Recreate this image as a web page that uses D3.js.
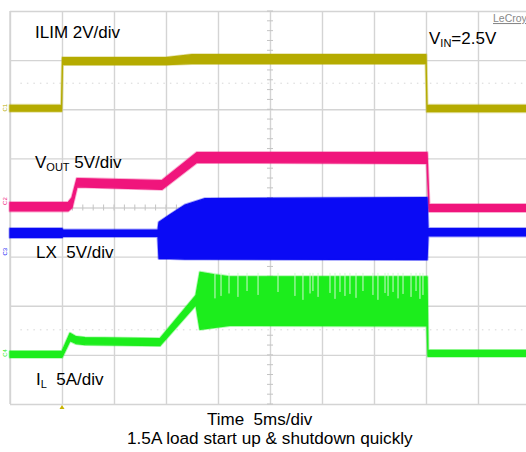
<!DOCTYPE html>
<html><head><meta charset="utf-8">
<script src="https://cdn.jsdelivr.net/npm/d3@7"></script>
<style>html,body{margin:0;padding:0;background:#fff;} svg{display:block;} text{font-family:"Liberation Sans",Arial,sans-serif;}</style>
</head><body>
<svg id="c" width="526" height="452"></svg>
<script>
// Time axis: 5 ms/div, 10 divisions; vertical: 8 divisions
const timeTicks = [-25,-20,-15,-10,-5,0,5,10,15,20,25];
const divTicks = [-4,-3,-2,-1,0,1,2,3,4];
const cursorLevels = [2.53, -2.49];

// ILIM (yellow) envelope, in divisions
const ilimTime = [-25, -20.05, -19.95, -10, -7.5, 15.0, 15.1, 25];
const ilimLow  = [1.96, 1.96, 2.91, 2.91, 2.93, 2.93, 1.95, 1.95];
const ilimHigh = [2.08, 2.08, 3.05, 3.05, 3.11, 3.11, 2.08, 2.08];

// VOUT (pink)
const voutTime = [-25, -19.42, -19.04, -18.56, -10.38, -7.02, 15.1, 15.29, 25];
const voutLow  = [-0.07, -0.07, 0.00, 0.42, 0.37, 0.92, 0.90, -0.08, -0.08];
const voutHigh = [0.10, 0.10, 0.20, 0.59, 0.55, 1.12, 1.12, 0.06, 0.06];

// LX (blue)
const lxTime = [-25, -20, -19.9, -10.77, -10.67, -9.62, -8.17, -6.25, 15.1, 15.19, 25];
const lxLow  = [-0.61, -0.61, -0.59, -0.59, -1.04, -1.04, -1.05, -1.05, -1.06, -0.58, -0.58];
const lxHigh = [-0.43, -0.43, -0.46, -0.46, -0.30, -0.15, 0.05, 0.18, 0.20, -0.43, -0.43];

// IL (green)
const ilTime = [-25, -20, -19.23, -18.65, -17.79, -10.58, -7.12, -6.73, -5.29, -3.85, 15.1, 15.19, 25];
const ilLow  = [-3.05, -3.05, -2.71, -2.77, -2.79, -2.81, -1.98, -2.48, -2.44, -2.40, -2.41, -3.03, -3.03];
const ilHigh = [-2.93, -2.93, -2.56, -2.63, -2.65, -2.67, -1.79, -1.32, -1.37, -1.41, -1.41, -2.91, -2.91];

// IL downward dropouts at the top of the switching band
const ilSpikeTime  = [-5.29,-4.71,-3.94,-3.08,-2.21,-1.15,0.77,2.40,3.17,3.85,4.13,4.62,5.77,6.25,6.73,7.21,7.69,8.27,8.94,9.90,10.38,11.06,11.35,11.83,12.31,12.79,13.56,14.04,14.42,14.71];
const ilSpikeDepth = [-1.85,-1.80,-1.75,-1.82,-1.70,-1.78,-1.72,-1.80,-1.88,-1.75,-1.70,-1.82,-1.74,-1.86,-1.72,-1.80,-1.76,-1.84,-1.70,-1.78,-1.88,-1.74,-1.80,-1.72,-1.85,-1.76,-1.82,-1.70,-1.86,-1.78];

const svg = d3.select("#c");
const x = d3.scaleLinear().domain([-25, 25]).range([10, 530]);
const y = d3.scaleLinear().domain([-4, 4]).range([404, 11]);
const gridColor = "#d4d4d4";

// grid via axes
const gx = svg.append("g").attr("transform", `translate(0,${y(-4)})`)
  .call(d3.axisBottom(x).tickValues(timeTicks).tickSize(-(y(-4) - y(4))).tickFormat(""));
const gy = svg.append("g").attr("transform", `translate(${x(-25)},0)`)
  .call(d3.axisLeft(y).tickValues(divTicks).tickSize(-(x(25) - x(-25))).tickFormat(""));
[gx, gy].forEach(g => {
  g.select(".domain").remove();
  g.selectAll(".tick line").attr("stroke", gridColor).attr("stroke-width", 1.4);
});
svg.append("line").attr("x1", x(-25)).attr("x2", x(-25)).attr("y1", y(4)).attr("y2", y(-4))
  .attr("stroke", gridColor).attr("stroke-width", 1.4);

// minor ticks on the centre lines
const minorT = d3.range(-25, 25.01, 1);
const minorD = d3.range(-4, 4.01, 0.2);
svg.append("g").selectAll("line").data(minorT).join("line")
  .attr("x1", d => x(d)).attr("x2", d => x(d))
  .attr("y1", y(0) - 3).attr("y2", y(0) + 3)
  .attr("stroke", "#c4c4c4").attr("stroke-width", 1);
svg.append("g").selectAll("line").data(minorD).join("line")
  .attr("y1", d => y(d)).attr("y2", d => y(d))
  .attr("x1", x(0) - 3).attr("x2", x(0) + 3)
  .attr("stroke", "#c4c4c4").attr("stroke-width", 1);

// dotted cursor lines
svg.append("g").selectAll("line").data(cursorLevels).join("line")
  .attr("x1", x(-24)).attr("x2", x(25))
  .attr("y1", d => y(d)).attr("y2", d => y(d))
  .attr("stroke", "#d6d6d6").attr("stroke-width", 1).attr("stroke-dasharray", "1.5,5");

function trace(time, low, high, color) {
  const data = time.map((t, i) => ({ t, lo: low[i], hi: high[i] }));
  const area = d3.area().x(d => x(d.t)).y0(d => y(d.lo)).y1(d => y(d.hi));
  // soft noisy halo
  svg.append("path").datum(data).attr("d", area)
    .attr("fill", "none").attr("stroke", color).attr("stroke-width", 3)
    .attr("stroke-opacity", 0.35).attr("stroke-linejoin", "round");
  svg.append("path").datum(data).attr("d", area)
    .attr("fill", color).attr("stroke", color).attr("stroke-width", 1.2)
    .attr("stroke-linejoin", "round");
}
trace(ilimTime, ilimLow, ilimHigh, "#b5ab00");
trace(voutTime, voutLow, voutHigh, "#f0157c");
trace(lxTime, lxLow, lxHigh, "#0a0af5");
trace(ilTime, ilLow, ilHigh, "#1ced1c");

// dropouts in the IL band
svg.append("g").selectAll("line").data(ilSpikeTime).join("line")
  .attr("x1", d => x(d)).attr("x2", d => x(d))
  .attr("y1", y(-1.33)).attr("y2", (d, i) => y(ilSpikeDepth[i]))
  .attr("stroke", "#d2f8d2").attr("stroke-width", 1);

// channel markers
const markers = [["C1", 2.03, "#b5ab00"], ["C2", 0.13, "#f0157c"], ["C3", -0.9, "#0a0af5"], ["C4", -2.96, "#1ced1c"]];
svg.append("g").selectAll("text").data(markers).join("text")
  .attr("transform", d => `translate(7,${y(d[1])}) rotate(-90)`)
  .attr("text-anchor", "middle").attr("font-size", 6).attr("fill", d => d[2]).text(d => d[0]);

// trigger marker
svg.append("path").attr("d", `M${x(-20) - 2.5},${y(-4) + 5} L${x(-20) + 2.5},${y(-4) + 5} L${x(-20)},${y(-4) + 1} Z`)
  .attr("fill", "#c8b400");

// labels
const fs = 17, sub = 11;
function lbl(xp, yp, parts) {
  const t = svg.append("text").attr("x", xp).attr("y", yp).attr("font-size", fs)
    .attr("fill", "#000").style("white-space", "pre");
  parts.forEach(p => {
    const s = t.append("tspan").text(p[0]);
    if (p[1] === "sub") s.attr("font-size", sub).attr("dy", 3);
    if (p[1] === "up") s.attr("dy", -3);
  });
}
lbl(35, 38, [["ILIM 2V/div"]]);
lbl(35, 168, [["V"], ["OUT", "sub"], [" 5V/div", "up"]]);
lbl(36, 258, [["LX  5V/div"]]);
lbl(36, 385, [["I"], ["L", "sub"], ["  5A/div", "up"]]);
lbl(429, 44, [["V"], ["IN", "sub"], ["=2.5V", "up"]]);

svg.append("text").attr("x", 493).attr("y", 22).attr("font-size", 10.5).attr("fill", "#888")
  .attr("text-decoration", "underline").text("LeCroy");

svg.append("text").attr("x", 207).attr("y", 425).attr("font-size", fs).style("white-space", "pre").text("Time  5ms/div");
svg.append("text").attr("x", 127).attr("y", 444).attr("font-size", 17.2).text("1.5A load start up & shutdown quickly");
</script>
</body></html>
